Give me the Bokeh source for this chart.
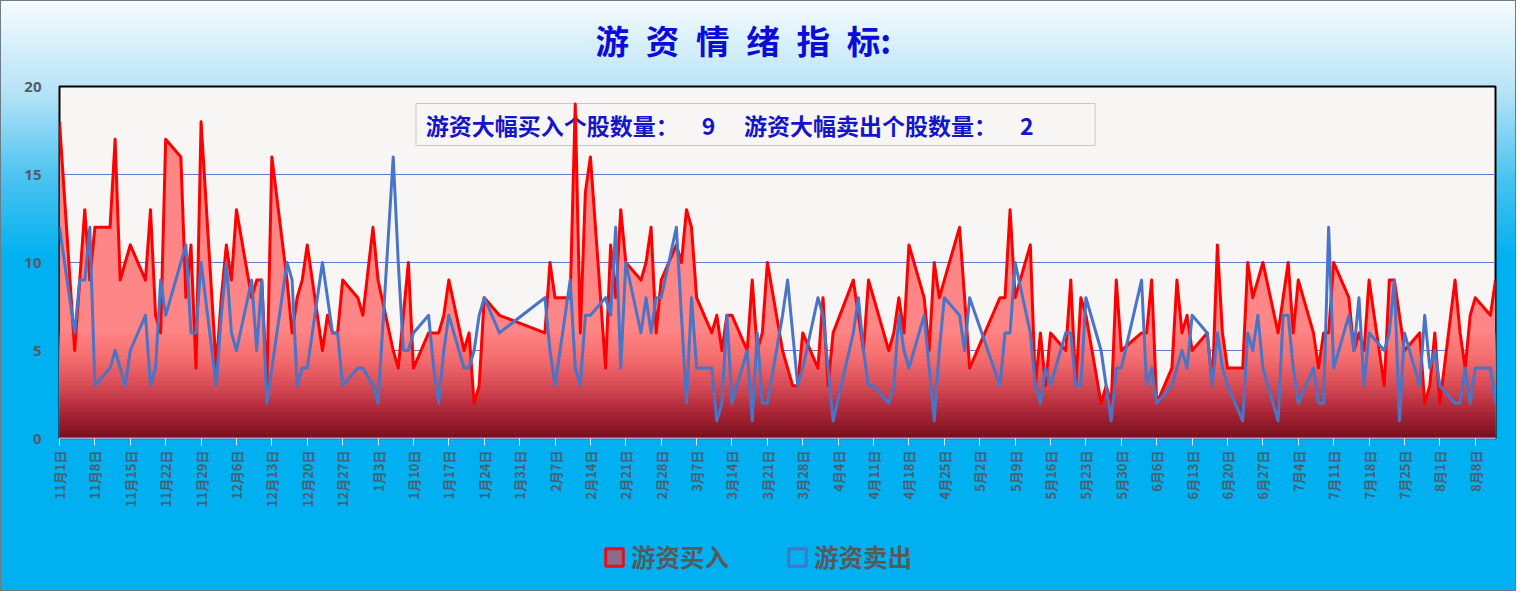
import numpy as np
import pandas as pd

from bokeh.plotting import figure
from bokeh.layouts import column
from bokeh.models import Range1d, FixedTicker, Label, Legend, LegendItem
from bokeh.embed import file_html
from bokeh.resources import INLINE

# trading calendar (A-share, holidays closed)
start = "2024-11-01"
end = "2025-08-12"
closed_days = ["2025-01-01", "2025-01-28", "2025-01-29", "2025-01-30", "2025-01-31",
               "2025-02-03", "2025-02-04", "2025-04-04", "2025-05-01", "2025-05-02",
               "2025-05-05", "2025-06-02"]
trade_dates = pd.bdate_range(start, end, freq="C", holidays=closed_days)

# 游资买入 (red area)
buy = [18,
       5, 9, 13, 9, 12, 12, 17, 9, 10, 11, 9, 13, 7, 6, 17, 16, 8, 11, 4, 18,
       4, 8, 11, 9, 13, 8, 9, 9, 3, 16, 9, 6, 8, 9, 11, 5, 7, 6, 6, 9,
       8, 7, 12, 9, 5, 4, 7, 10, 4, 6, 6, 6, 7, 9, 5, 6, 2, 3, 8,
       7,
       6, 10, 8, 8, 19, 6, 14, 16, 4, 11, 8, 13, 10, 9, 10, 12, 6, 9,
       11, 10, 13, 12, 8, 6, 7, 5, 7, 7, 5, 9, 5, 6, 10, 5, 4, 3, 3, 6,
       4, 8, 3, 6, 9, 7, 5, 9, 8, 5, 6, 8, 6, 11, 8, 5, 10, 8, 9,
       12, 8, 4, 8, 8, 13, 8, 11, 3, 6, 3, 6, 5, 9, 3, 8, 7, 2, 3, 2, 9, 5,
       6, 6, 9, 2, 4, 9, 6, 7, 5, 6, 3, 11, 6, 4, 4, 10, 8, 9, 10,
       6, 8, 10, 6, 9, 6, 4, 6, 6, 10, 8, 5, 6, 5, 9, 3, 9, 9, 7, 5,
       6, 2, 3, 6, 2, 9, 6, 4, 7, 8, 7, 9]

# 游资卖出 (blue line)
sell = [12,
        6, 9, 9, 12, 3, 4, 5, 4, 3, 5, 7, 3, 4, 9, 7, 10, 11, 6, 6, 10,
        3, 7, 10, 6, 5, 9, 5, 9, 2, 4, 10, 9, 3, 4, 4, 10, 8, 6, 6, 3,
        4, 4, 3, 2, 16, 10, 5, 5, 6, 7, 4, 2, 5, 7, 4, 4, 5, 7, 8,
        6,
        8, 5, 3, 9, 4, 3, 7, 7, 8, 7, 12, 4, 10, 6, 8, 6, 8, 8,
        12, 7, 2, 8, 4, 4, 1, 2, 7, 2, 5, 1, 6, 2, 2, 7, 9, 6, 3, 4,
        8, 7, 4, 1, 6, 8, 5, 3, 3, 2, 3, 7, 5, 4, 7, 4, 1, 5, 8,
        7, 5, 8, 3, 6, 6, 10, 6, 3, 2, 4, 3, 6, 6, 3, 3, 8, 5, 3, 1, 4, 4,
        9, 3, 4, 2, 3, 4, 5, 4, 7, 6, 3, 6, 4, 3, 1, 6, 5, 7, 4,
        1, 7, 7, 4, 2, 4, 2, 2, 12, 4, 7, 5, 8, 3, 6, 5, 6, 9, 1, 6,
        3, 7, 4, 5, 3, 2, 2, 4, 2, 4, 4, 2]

tick_dates = pd.date_range("2024-11-01", "2025-08-08", freq="7D")
tick_labels = [f"{d.month}月{d.day}日" for d in tick_dates]
y_ticks = [0, 5, 10, 15, 20]

title_text = "\u2002".join("游资情绪指标") + ":"
note_text = ("\u2005游资大幅买入个股数量：\u3000\u20029\u3000\u2005"
             "游资大幅卖出个股数量：\u3000\u20022\u3000\u3000\u2002")

x = (trade_dates - trade_dates[0]).days.to_numpy().astype(float)
yb = np.array(buy, dtype=float)
ys = np.array(sell, dtype=float)
tick_x = [int(v) for v in (tick_dates - trade_dates[0]).days]

W = 1516

# title strip
head = figure(width=W, height=72, output_backend="svg", toolbar_location=None,
              x_range=Range1d(0, W), y_range=Range1d(0, 72), min_border=0,
              x_axis_location=None, y_axis_location=None)
head.frame_align = False
head.grid.visible = False
head.outline_line_color = None
head.background_fill_color = None
head.border_fill_color = None
head.add_layout(Label(x=595, y=33, text=title_text, text_align="left",
                      text_baseline="middle", text_font="Noto Sans CJK SC",
                      text_font_size="33.5px", text_font_style="bold",
                      text_color="#0c0cd8"))

# main chart
p = figure(width=W, height=458, output_backend="svg", toolbar_location=None,
           x_range=Range1d(0, 284), y_range=Range1d(0, 20),
           min_border_left=59, min_border_right=21, min_border_top=14,
           min_border_bottom=92)
p.border_fill_color = None
p.background_fill_color = "#f8f6f4"
p.outline_line_color = "black"
p.outline_line_width = 2

# grid
p.xgrid.visible = False
p.ygrid.ticker = FixedTicker(ticks=y_ticks)
p.ygrid.grid_line_color = "#5b7cc6"
p.ygrid.grid_line_width = 1

# y axis
p.yaxis.ticker = FixedTicker(ticks=y_ticks)
p.yaxis.axis_line_color = None
p.yaxis.major_tick_line_color = None
p.yaxis.minor_tick_line_color = None
p.yaxis.major_label_standoff = 12
p.yaxis.major_label_text_font = "Noto Sans"
p.yaxis.major_label_text_font_style = "bold"
p.yaxis.major_label_text_font_size = "15px"
p.yaxis.major_label_text_color = "#4f5d69"

# x axis
p.xaxis.ticker = FixedTicker(ticks=tick_x)
p.xaxis.major_label_overrides = dict(zip(tick_x, tick_labels))
p.xaxis.major_label_orientation = np.pi / 2
p.xaxis.axis_line_color = "#a3a2dc"
p.xaxis.axis_line_width = 2
p.xaxis.major_tick_in = 0
p.xaxis.major_tick_out = 7
p.xaxis.major_tick_line_color = "#e6eef5"
p.xaxis.minor_tick_line_color = None
p.xaxis.major_label_standoff = 5
p.xaxis.major_label_text_font = "Noto Sans CJK SC"
p.xaxis.major_label_text_font_style = "bold"
p.xaxis.major_label_text_font_size = "13px"
p.xaxis.major_label_text_color = "#4a6072"

# note box
note = Label(x=70.5, y=17.84, text=note_text, text_align="left", text_baseline="middle",
             text_font="Noto Sans CJK SC", text_font_style="bold", text_font_size="23px",
             text_color="#1414cc", padding=4, border_line_color="#c8c8c8",
             border_line_width=1, background_fill_color=None, level="underlay")
p.add_layout(note)

# red area with vertical gradient: insert crossings of band edges into the polyline
band_tops = np.arange(0.25, 6.01, 0.25)
xs = list(x)
for i in range(len(x) - 1):
    for lv in band_tops:
        if (yb[i] - lv) * (yb[i + 1] - lv) < 0:
            xs.append(x[i] + (lv - yb[i]) / (yb[i + 1] - yb[i]) * (x[i + 1] - x[i]))
xs = np.unique(np.array(xs))
yi = np.interp(xs, x, yb)

stops = [(0, (118, 14, 30)), (1.5, (170, 38, 55)), (3, (215, 75, 85)),
         (4.5, (243, 108, 110)), (6, (255, 130, 130))]


def band_color(v):
    for (a, ca), (b, cb) in zip(stops[:-1], stops[1:]):
        if v <= b:
            t = (v - a) / (b - a)
            c = [int(round(ca[k] + t * (cb[k] - ca[k]))) for k in range(3)]
            return "#%02x%02x%02x" % tuple(c)
    return "#ff8282"


p.varea(x=xs, y1=0, y2=yi, fill_color="#ff8686")
for top in band_tops[::-1]:
    p.varea(x=xs, y1=0, y2=np.minimum(yi, top), fill_color=band_color(top - 0.125))

p.line(x, yb, line_color="#ff0000", line_width=3, line_join="round")
p.line(x, ys, line_color="#4a74c6", line_width=3, line_join="round")

# legend strip under the chart
leg = figure(width=W, height=61, output_backend="svg", toolbar_location=None,
             x_range=Range1d(0, 1), y_range=Range1d(0, 1), min_border=0,
             x_axis_location=None, y_axis_location=None)
leg.frame_align = False
leg.grid.visible = False
leg.outline_line_color = None
leg.background_fill_color = None
leg.border_fill_color = None

# hidden swatch renderers that only feed the legend
r_buy = leg.quad(left=[0], right=[0], top=[0], bottom=[0], fill_color="#8b6a8a",
                 line_color="#e3101e", line_width=3, visible=False)
r_sell = leg.quad(left=[0], right=[0], top=[0], bottom=[0], fill_color=None,
                  line_color="#4a74c6", line_width=3, visible=False)
legend = Legend(items=[LegendItem(label="游资买入", renderers=[r_buy]),
                       LegendItem(label="游资卖出", renderers=[r_sell])],
                orientation="horizontal", location=(603, 17),
                glyph_width=22, glyph_height=22, label_standoff=6, spacing=57,
                padding=0, margin=0, background_fill_alpha=0, border_line_color=None,
                label_text_font="Noto Sans CJK SC", label_text_font_style="bold",
                label_text_font_size="24.5px", label_text_color="#595959")
leg.add_layout(legend)

page = column(head, p, leg, spacing=0)
page.styles = {"background-image": "linear-gradient(to bottom, #f6fbfe 0px, #b6e3f6 92px, "
                                   "#48c2f0 180px, #00b0f0 258px, #00b0f0 100%)",
               "outline": "1px solid #6b7b88", "outline-offset": "-1px"}

open("out.html", "w").write(file_html(page, INLINE))
